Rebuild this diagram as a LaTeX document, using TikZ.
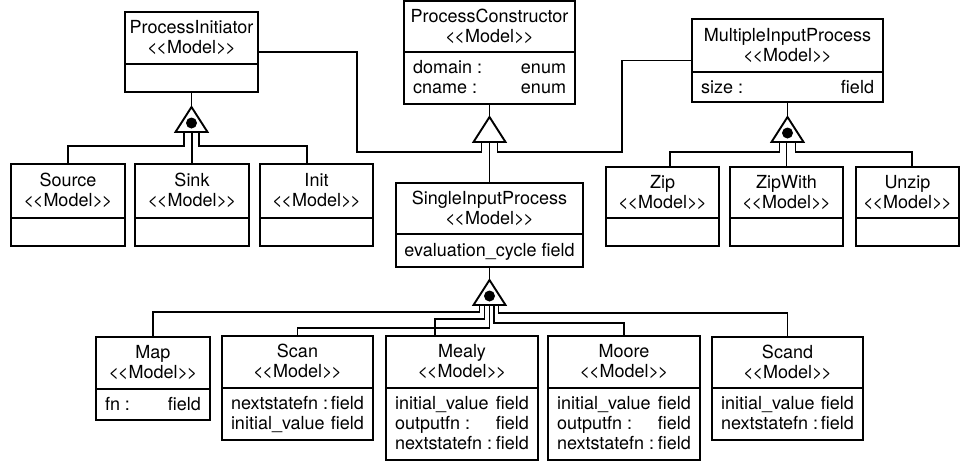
\documentclass[tikz,border=0pt]{standalone}
\usepackage{fontspec}
\setmainfont{TeX Gyre Heros}
\usetikzlibrary{calc}

% stereotype label, kerned so << and >> stay two plain, tightly set characters
\newcommand\modelstereo{<\kern-1.2pt<Model>\kern-1.2pt>}

\tikzset{
  classbox/.style={draw, line width=1.9pt, inner sep=0pt, outer sep=0pt},
  conn/.style={line width=1.9pt},
  lbl/.style={inner sep=0pt, outer sep=0pt, font=\fontsize{18}{20}\selectfont},
  gentri/.style={line width=1.9pt, fill=white, line join=miter},
}

% class box: name, x1, y1, x2, y2, separator y, class name
\newcommand\umlclass[7]{%
  \node[classbox, minimum width={#4-#2}, minimum height={#5-#3}, anchor=north west] (#1) at (#2,#3) {};
  \draw[conn] (#1.west |- 0,#6) -- (#1.east |- 0,#6);
  \node[lbl, anchor=base] (#1-name) at ({(#2+#4)/2},{(#3+#6)/2-4.5}) {#7};
  \node[lbl, anchor=base] (#1-stereo) at ({(#2+#4)/2},{(#3+#6)/2+15.5}) {\modelstereo};
}

% attribute row: node name, x1, x2, baseline y, attribute, type
\newcommand\attr[6]{%
  \node[lbl, anchor=base west] (#1) at (#2+9,#4) {\hbox to \dimexpr#3pt-#2pt-18pt\relax{#5\hfill#6}};
}

% generalisation triangle: name, apex x, apex y (base centre is <name>b)
\newcommand\gentriangle[3]{%
  \coordinate (#1) at (#2,#3);
  \coordinate (#1b) at (#2,#3+25);
  \draw[gentri] (#1) -- ++(-16,25) -- ++(32,0) -- cycle;
}
% same, with the filled dot of a complete/disjoint set
\newcommand\gentriangledot[3]{%
  \gentriangle{#1}{#2}{#3}%
  \fill ($(#1)+(0,16)$) circle[radius=5.5pt];
}

\begin{document}
\begin{tikzpicture}[x=1pt, y=-1pt]
  \fill[white] (0,0) rectangle (961,464);
  \useasboundingbox (0,0) rectangle (961,464);

  % ---- classes ----
  \umlclass{pi}{125}{12}{258}{92}{64}{ProcessInitiator}
  \umlclass{pc}{404}{1}{575}{104}{52}{ProcessConstructor}
  \attr{pc-a1}{404}{575}{73}{domain :}{enum}
  \attr{pc-a2}{404}{575}{93}{cname :}{enum}
  \umlclass{mip}{692}{19}{883}{102}{72}{MultipleInputProcess}
  \attr{mip-a1}{692}{883}{93}{size :}{field}

  \umlclass{source}{11}{164}{125}{246}{218}{Source}
  \umlclass{sink}{135}{164}{249}{246}{218}{Sink}
  \umlclass{init}{260}{164}{373}{246}{218}{Init}

  \umlclass{sip}{396}{183}{583}{267}{234}{SingleInputProcess}
  \node[lbl, anchor=base] (sip-a1) at (489.5,256) {evaluation\_cycle field};

  \umlclass{zip}{606}{167}{719}{246}{218}{Zip}
  \umlclass{zipwith}{730}{167}{843}{246}{218}{ZipWith}
  \umlclass{unzip}{856}{167}{959}{246}{218}{Unzip}

  \umlclass{map}{96}{337}{210}{420}{389}{Map}
  \attr{map-a1}{96}{210}{410}{fn :}{field}
  \umlclass{scan}{222}{336}{373}{440}{388}{Scan}
  \attr{scan-a1}{222}{373}{409}{nextstatefn :}{field}
  \attr{scan-a2}{222}{373}{429}{initial\_value}{field}
  \umlclass{mealy}{386}{336}{538}{460}{388}{Mealy}
  \attr{mealy-a1}{386}{538}{409}{initial\_value}{field}
  \attr{mealy-a2}{386}{538}{429}{outputfn :}{field}
  \attr{mealy-a3}{386}{538}{449}{nextstatefn :}{field}
  \umlclass{moore}{548}{336}{700}{460}{388}{Moore}
  \attr{moore-a1}{548}{700}{409}{initial\_value}{field}
  \attr{moore-a2}{548}{700}{429}{outputfn :}{field}
  \attr{moore-a3}{548}{700}{449}{nextstatefn :}{field}
  \umlclass{scand}{712}{337}{863}{440}{388}{Scand}
  \attr{scand-a1}{712}{863}{409}{initial\_value}{field}
  \attr{scand-a2}{712}{863}{429}{nextstatefn :}{field}

  % ---- ProcessConstructor hierarchy ----
  \draw[conn] (pc.south) -- (489.5,117);
  \gentriangle{pcT}{489.5}{117}
  \draw[conn] (sip.north) -- (pcTb);
  \draw[conn] (pi.east) -- ++(99,0) |- ($(pcTb)+(-8,10)$) -- ++(0,-10);
  \draw[conn] (mip.west) -- ++(-70,0) |- ($(pcTb)+(8,10)$) -- ++(0,-10);

  % ---- ProcessInitiator hierarchy ----
  \draw[conn] (pi.south) -- (191.5,107);
  \gentriangledot{piT}{191.5}{107}
  \draw[conn] (sink.north) -- (sink.north |- piTb);
  \draw[conn] (source.north) |- ($(piTb)+(-7.5,14)$) -- ++(0,-14);
  \draw[conn] ($(init.north west)+(47,0)$) |- ($(piTb)+(7.5,14)$) -- ++(0,-14);

  % ---- MultipleInputProcess hierarchy ----
  \draw[conn] (mip.south) -- (787.5,117);
  \gentriangledot{mipT}{787.5}{117}
  \draw[conn] (zipwith.north) -- (zipwith.north |- mipTb);
  \draw[conn] ($(zip.north west)+(64,0)$) |- ($(mipTb)+(-8,10)$) -- ++(0,-10);
  \draw[conn] ($(unzip.north west)+(56,0)$) |- ($(mipTb)+(8,10)$) -- ++(0,-10);

  % ---- SingleInputProcess hierarchy ----
  \draw[conn] (sip.south) -- (489.5,280);
  \gentriangledot{sipT}{489.5}{280}
  \draw[conn] (map.north) |- ($(sipTb)+(-10,7)$) -- ++(0,-7);
  \draw[conn] ($(mealy.north west)+(49,0)$) |- ($(sipTb)+(-5,14)$) -- ++(0,-14);
  \draw[conn] (scan.north) |- ($(sipTb)+(0,23)$) -- (sipTb);
  \draw[conn] (moore.north) |- ($(sipTb)+(4.5,18)$) -- ++(0,-18);
  \draw[conn] (scand.north) |- ($(sipTb)+(9,8)$) -- ++(0,-8);
\end{tikzpicture}
\end{document}
